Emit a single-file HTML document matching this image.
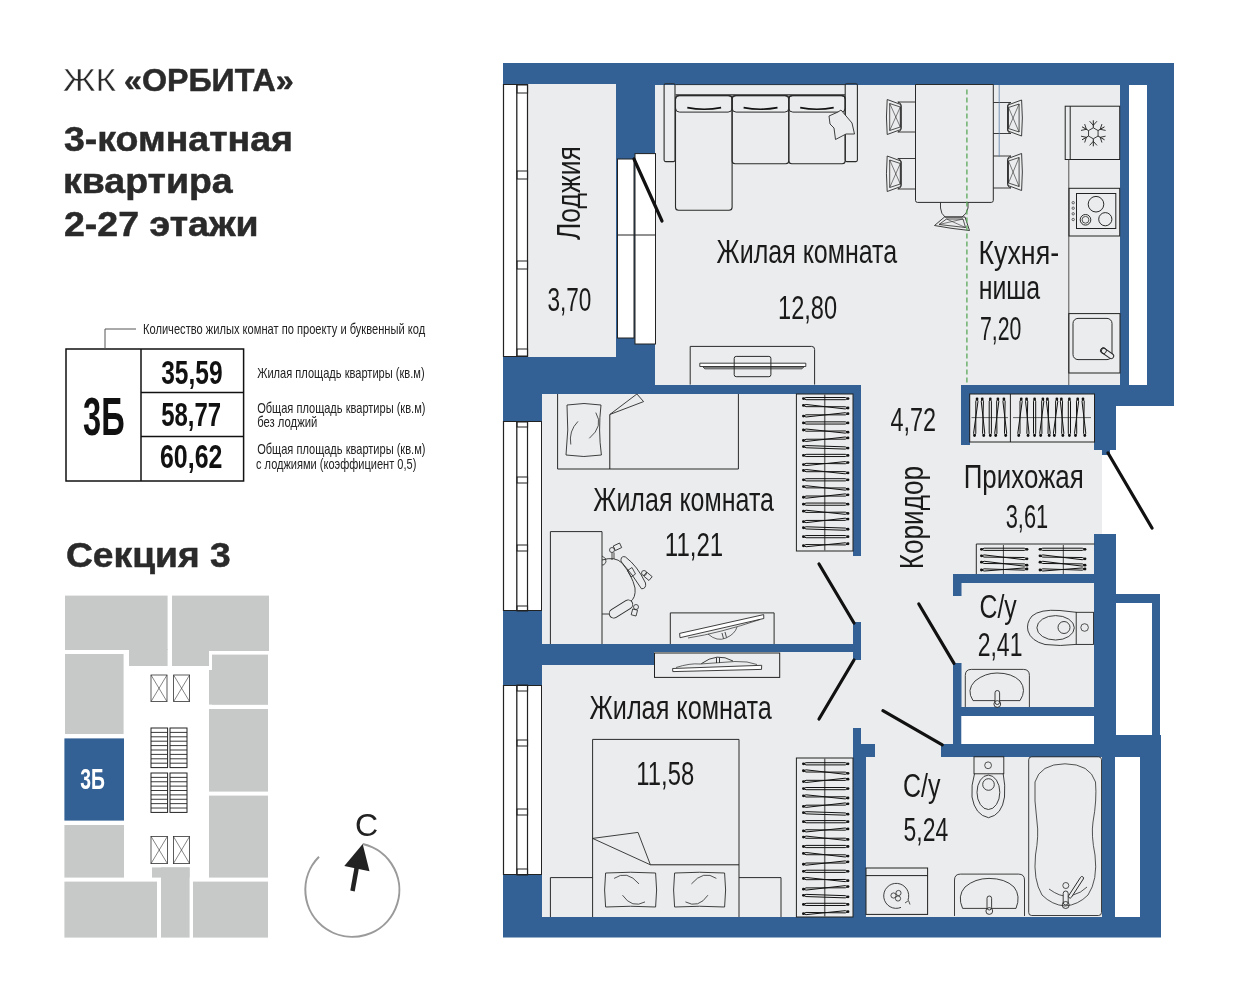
<!DOCTYPE html>
<html><head><meta charset="utf-8"><style>
html,body{margin:0;padding:0;background:#fff;}
svg{display:block;}
text{-webkit-font-smoothing:antialiased;}
</style></head><body>
<svg width="1241" height="1000" viewBox="0 0 1241 1000" style="will-change:transform">
<rect x="0" y="0" width="1241" height="1000" fill="#ffffff"/>
<rect x="66" y="349" width="177.6" height="132" fill="none" stroke="#111" stroke-width="1.5"/>
<line x1="141" y1="349" x2="141" y2="481" stroke="#111" stroke-width="1.5" />
<line x1="141" y1="392.6" x2="243.6" y2="392.6" stroke="#111" stroke-width="1.5" />
<line x1="141" y1="436.6" x2="243.6" y2="436.6" stroke="#111" stroke-width="1.5" />
<polyline points="105,349 105,329 136,329" fill="none" stroke="#555" stroke-width="1"/>
<rect x="65" y="595.6" width="102.6" height="54.4" fill="#c7c8c8" />
<rect x="129" y="649" width="38.6" height="17" fill="#c7c8c8" />
<rect x="172" y="595.6" width="97" height="55.4" fill="#c7c8c8" />
<rect x="172" y="650" width="37" height="16" fill="#c7c8c8" />
<rect x="65" y="654" width="58.6" height="80" fill="#c7c8c8" />
<rect x="212" y="654.6" width="56" height="50.0" fill="#c7c8c8" />
<rect x="209" y="670" width="59" height="34.6" fill="#c7c8c8" />
<rect x="209" y="709" width="59" height="82.6" fill="#c7c8c8" />
<rect x="209" y="795.6" width="59" height="82.0" fill="#c7c8c8" />
<rect x="64.4" y="825" width="59.6" height="52.6" fill="#c7c8c8" />
<rect x="64.4" y="881.6" width="92.6" height="56.0" fill="#c7c8c8" />
<rect x="152" y="867.4" width="37.6" height="10.2" fill="#c7c8c8" />
<rect x="161" y="867.4" width="28.6" height="70.2" fill="#c7c8c8" />
<rect x="193" y="881.6" width="75" height="56.0" fill="#c7c8c8" />
<rect x="64.4" y="738.4" width="59.6" height="82.2" fill="#336195" />
<text x="80.2" y="789" font-family="Liberation Sans, sans-serif" font-size="30" font-weight="bold" fill="#ffffff" text-anchor="start" textLength="24.6" lengthAdjust="spacingAndGlyphs" >3Б</text>
<rect x="151" y="675" width="16" height="26.6" fill="none" stroke="#333" stroke-width="0.8"/>
<line x1="151" y1="675" x2="167" y2="701.6" stroke="#333" stroke-width="0.6" />
<line x1="167" y1="675" x2="151" y2="701.6" stroke="#333" stroke-width="0.6" />
<rect x="173.6" y="675" width="16.0" height="26.6" fill="none" stroke="#333" stroke-width="0.8"/>
<line x1="173.6" y1="675" x2="189.6" y2="701.6" stroke="#333" stroke-width="0.6" />
<line x1="189.6" y1="675" x2="173.6" y2="701.6" stroke="#333" stroke-width="0.6" />
<rect x="151" y="836.4" width="16.4" height="27.2" fill="none" stroke="#333" stroke-width="0.8"/>
<line x1="151" y1="836.4" x2="167.4" y2="863.6" stroke="#333" stroke-width="0.6" />
<line x1="167.4" y1="836.4" x2="151" y2="863.6" stroke="#333" stroke-width="0.6" />
<rect x="173.4" y="836.4" width="16.2" height="27.2" fill="none" stroke="#333" stroke-width="0.8"/>
<line x1="173.4" y1="836.4" x2="189.6" y2="863.6" stroke="#333" stroke-width="0.6" />
<line x1="189.6" y1="836.4" x2="173.4" y2="863.6" stroke="#333" stroke-width="0.6" />
<rect x="151" y="728" width="16.6" height="39.6" fill="none" stroke="#222" stroke-width="1"/>
<line x1="151" y1="732.4" x2="167.6" y2="732.4" stroke="#222" stroke-width="0.9" />
<line x1="151" y1="736.8" x2="167.6" y2="736.8" stroke="#222" stroke-width="0.9" />
<line x1="151" y1="741.2" x2="167.6" y2="741.2" stroke="#222" stroke-width="0.9" />
<line x1="151" y1="745.6" x2="167.6" y2="745.6" stroke="#222" stroke-width="0.9" />
<line x1="151" y1="750.0" x2="167.6" y2="750.0" stroke="#222" stroke-width="0.9" />
<line x1="151" y1="754.4" x2="167.6" y2="754.4" stroke="#222" stroke-width="0.9" />
<line x1="151" y1="758.8" x2="167.6" y2="758.8" stroke="#222" stroke-width="0.9" />
<line x1="151" y1="763.2" x2="167.6" y2="763.2" stroke="#222" stroke-width="0.9" />
<rect x="151" y="773" width="16.6" height="39.4" fill="none" stroke="#222" stroke-width="1"/>
<line x1="151" y1="777.38" x2="167.6" y2="777.38" stroke="#222" stroke-width="0.9" />
<line x1="151" y1="781.76" x2="167.6" y2="781.76" stroke="#222" stroke-width="0.9" />
<line x1="151" y1="786.13" x2="167.6" y2="786.13" stroke="#222" stroke-width="0.9" />
<line x1="151" y1="790.51" x2="167.6" y2="790.51" stroke="#222" stroke-width="0.9" />
<line x1="151" y1="794.89" x2="167.6" y2="794.89" stroke="#222" stroke-width="0.9" />
<line x1="151" y1="799.27" x2="167.6" y2="799.27" stroke="#222" stroke-width="0.9" />
<line x1="151" y1="803.64" x2="167.6" y2="803.64" stroke="#222" stroke-width="0.9" />
<line x1="151" y1="808.02" x2="167.6" y2="808.02" stroke="#222" stroke-width="0.9" />
<rect x="170" y="728" width="17" height="39.6" fill="none" stroke="#222" stroke-width="1"/>
<line x1="170" y1="732.4" x2="187" y2="732.4" stroke="#222" stroke-width="0.9" />
<line x1="170" y1="736.8" x2="187" y2="736.8" stroke="#222" stroke-width="0.9" />
<line x1="170" y1="741.2" x2="187" y2="741.2" stroke="#222" stroke-width="0.9" />
<line x1="170" y1="745.6" x2="187" y2="745.6" stroke="#222" stroke-width="0.9" />
<line x1="170" y1="750.0" x2="187" y2="750.0" stroke="#222" stroke-width="0.9" />
<line x1="170" y1="754.4" x2="187" y2="754.4" stroke="#222" stroke-width="0.9" />
<line x1="170" y1="758.8" x2="187" y2="758.8" stroke="#222" stroke-width="0.9" />
<line x1="170" y1="763.2" x2="187" y2="763.2" stroke="#222" stroke-width="0.9" />
<rect x="170" y="773" width="17" height="39.4" fill="none" stroke="#222" stroke-width="1"/>
<line x1="170" y1="777.38" x2="187" y2="777.38" stroke="#222" stroke-width="0.9" />
<line x1="170" y1="781.76" x2="187" y2="781.76" stroke="#222" stroke-width="0.9" />
<line x1="170" y1="786.13" x2="187" y2="786.13" stroke="#222" stroke-width="0.9" />
<line x1="170" y1="790.51" x2="187" y2="790.51" stroke="#222" stroke-width="0.9" />
<line x1="170" y1="794.89" x2="187" y2="794.89" stroke="#222" stroke-width="0.9" />
<line x1="170" y1="799.27" x2="187" y2="799.27" stroke="#222" stroke-width="0.9" />
<line x1="170" y1="803.64" x2="187" y2="803.64" stroke="#222" stroke-width="0.9" />
<line x1="170" y1="808.02" x2="187" y2="808.02" stroke="#222" stroke-width="0.9" />
<path d="M 362.7 844 A 47 47 0 1 1 319 856.7" fill="none" stroke="#9a9a9a" stroke-width="2"/>
<polygon points="362.7,844 344.3,866 369.5,871.2" fill="#222"/>
<line x1="357" y1="866" x2="352.5" y2="891" stroke="#222" stroke-width="4.5" />
<polygon points="503,63 1174,63 1174,406 1116,406 1116,594 1160,594 1160,735 1161,735 1161,937.5 503,937.5" fill="#336195"/>
<rect x="528" y="84" width="88" height="273" fill="#ebeced" />
<rect x="655" y="85" width="465" height="300" fill="#ebeced" />
<rect x="542" y="394" width="311" height="250" fill="#ebeced" />
<rect x="861" y="385" width="233" height="372" fill="#ebeced" />
<rect x="542" y="652" width="311" height="265" fill="#ebeced" />
<rect x="866" y="757" width="236" height="160" fill="#ebeced" />
<rect x="1094" y="450" width="8" height="84" fill="#ebeced" />
<rect x="853" y="556" width="8" height="66" fill="#ebeced" />
<rect x="853" y="660" width="8" height="68" fill="#ebeced" />
<rect x="616" y="84" width="39" height="310" fill="#336195" />
<rect x="655" y="385" width="206" height="9" fill="#336195" />
<rect x="853" y="394" width="8" height="162" fill="#336195" />
<rect x="542" y="644" width="112" height="21" fill="#336195" />
<rect x="654" y="644" width="207" height="8" fill="#336195" />
<rect x="853" y="622" width="8" height="38" fill="#336195" />
<rect x="853" y="728" width="8" height="29" fill="#336195" />
<rect x="853" y="744" width="22" height="13" fill="#336195" />
<rect x="853" y="757" width="13" height="160" fill="#336195" />
<rect x="961" y="385" width="9" height="60" fill="#336195" />
<rect x="961" y="385" width="213" height="9" fill="#336195" />
<rect x="1094" y="394" width="80" height="12" fill="#336195" />
<rect x="1094" y="394" width="22" height="56" fill="#336195" />
<rect x="1102" y="449" width="8" height="6" fill="#336195" />
<rect x="1094" y="534" width="22" height="223" fill="#336195" />
<rect x="1102" y="757" width="14" height="160" fill="#336195" />
<rect x="953" y="574" width="141" height="9" fill="#336195" />
<rect x="953" y="574" width="8.5" height="22" fill="#336195" />
<rect x="953" y="663" width="8.5" height="94" fill="#336195" />
<rect x="961" y="707" width="133" height="9" fill="#336195" />
<rect x="941" y="744" width="174" height="13" fill="#336195" />
<rect x="1129" y="85" width="18" height="300" fill="#ffffff" />
<rect x="1116" y="603" width="36" height="132" fill="#ffffff" />
<rect x="1115" y="757" width="25" height="160" fill="#ffffff" />
<rect x="961.5" y="716" width="132.5" height="28" fill="#ffffff" />
<rect x="1102" y="455" width="14" height="79" fill="#ffffff" />
<rect x="1110" y="450" width="6" height="5" fill="#ffffff" />
<rect x="503" y="84" width="25" height="273" fill="#ffffff" />
<line x1="503.5" y1="84" x2="503.5" y2="357" stroke="#222" stroke-width="1.2" />
<line x1="516.8" y1="84" x2="516.8" y2="357" stroke="#222" stroke-width="1.3" />
<line x1="527.5" y1="84" x2="527.5" y2="357" stroke="#222" stroke-width="1.2" />
<line x1="503" y1="84.5" x2="528" y2="84.5" stroke="#222" stroke-width="1" />
<line x1="503" y1="356.5" x2="528" y2="356.5" stroke="#222" stroke-width="1" />
<rect x="517" y="85" width="10.6" height="8" fill="none" stroke="#222" stroke-width="1"/>
<rect x="517" y="171" width="10.6" height="8" fill="none" stroke="#222" stroke-width="1"/>
<rect x="517" y="261" width="10.6" height="8" fill="none" stroke="#222" stroke-width="1"/>
<rect x="517" y="349" width="10.6" height="7" fill="none" stroke="#222" stroke-width="1"/>
<rect x="503" y="421" width="39" height="190" fill="#ffffff" />
<line x1="503.5" y1="421" x2="503.5" y2="611" stroke="#222" stroke-width="1.2" />
<line x1="516.8" y1="421" x2="516.8" y2="611" stroke="#222" stroke-width="1.3" />
<line x1="527.5" y1="421" x2="527.5" y2="611" stroke="#222" stroke-width="1.2" />
<line x1="541.5" y1="421" x2="541.5" y2="611" stroke="#222" stroke-width="1" />
<line x1="503" y1="421.5" x2="542" y2="421.5" stroke="#222" stroke-width="1" />
<line x1="503" y1="610.5" x2="542" y2="610.5" stroke="#222" stroke-width="1" />
<rect x="517" y="422" width="10.6" height="5" fill="none" stroke="#222" stroke-width="1"/>
<rect x="517" y="477" width="10.6" height="6" fill="none" stroke="#222" stroke-width="1"/>
<rect x="517" y="545" width="10.6" height="6" fill="none" stroke="#222" stroke-width="1"/>
<rect x="517" y="606" width="10.6" height="5" fill="none" stroke="#222" stroke-width="1"/>
<rect x="503" y="685" width="39" height="190" fill="#ffffff" />
<line x1="503.5" y1="685" x2="503.5" y2="875" stroke="#222" stroke-width="1.2" />
<line x1="516.8" y1="685" x2="516.8" y2="875" stroke="#222" stroke-width="1.3" />
<line x1="527.5" y1="685" x2="527.5" y2="875" stroke="#222" stroke-width="1.2" />
<line x1="541.5" y1="685" x2="541.5" y2="875" stroke="#222" stroke-width="1" />
<line x1="503" y1="685.5" x2="542" y2="685.5" stroke="#222" stroke-width="1" />
<line x1="503" y1="874.5" x2="542" y2="874.5" stroke="#222" stroke-width="1" />
<rect x="517" y="685" width="10.6" height="6" fill="none" stroke="#222" stroke-width="1"/>
<rect x="517" y="740" width="10.6" height="6" fill="none" stroke="#222" stroke-width="1"/>
<rect x="517" y="809" width="10.6" height="6" fill="none" stroke="#222" stroke-width="1"/>
<rect x="517" y="869" width="10.6" height="6" fill="none" stroke="#222" stroke-width="1"/>
<rect x="617.5" y="159" width="16.5" height="179" fill="#ffffff" stroke="#222" stroke-width="1"/>
<rect x="635" y="153.6" width="20.5" height="190.4" fill="#ffffff" stroke="#222" stroke-width="1"/>
<line x1="617.5" y1="235" x2="655.5" y2="235" stroke="#222" stroke-width="1" />
<line x1="634" y1="159" x2="662" y2="221" stroke="#111" stroke-width="3.2" stroke-linecap="round"/>
<line x1="1108" y1="453" x2="1152" y2="528" stroke="#111" stroke-width="3.2" stroke-linecap="round"/>
<line x1="819" y1="564" x2="854" y2="623" stroke="#111" stroke-width="3.2" stroke-linecap="round"/>
<line x1="854" y1="660" x2="819" y2="719" stroke="#111" stroke-width="3.2" stroke-linecap="round"/>
<line x1="918.8" y1="604" x2="954" y2="663.4" stroke="#111" stroke-width="3.2" stroke-linecap="round"/>
<line x1="882.9" y1="710.7" x2="942.3" y2="744.8" stroke="#111" stroke-width="3.2" stroke-linecap="round"/>
<rect x="664.1" y="83.8" width="10.9" height="77.8" rx="1.5" fill="none" stroke="#2a2a2a" stroke-width="1.1"/>
<rect x="845.2" y="83.8" width="12.2" height="77.8" rx="1.5" fill="none" stroke="#2a2a2a" stroke-width="1.1"/>
<line x1="675.5" y1="94.9" x2="845" y2="94.9" stroke="#2a2a2a" stroke-width="1.1" />
<line x1="675.5" y1="84.6" x2="845" y2="84.6" stroke="#2a2a2a" stroke-width="0.8" />
<rect x="675.5" y="95.6" width="56.6" height="114.7" rx="3" fill="none" stroke="#2a2a2a" stroke-width="1.1"/>
<rect x="732.1" y="95.6" width="56.7" height="68.2" rx="3" fill="none" stroke="#2a2a2a" stroke-width="1.1"/>
<rect x="788.8" y="95.6" width="56.4" height="68.2" rx="3" fill="none" stroke="#2a2a2a" stroke-width="1.1"/>
<rect x="675.5" y="95.6" width="56.6" height="16.5" rx="4" fill="none" stroke="#2a2a2a" stroke-width="1.0"/>
<rect x="732.1" y="95.6" width="56.7" height="16.5" rx="4" fill="none" stroke="#2a2a2a" stroke-width="1.0"/>
<rect x="788.8" y="95.6" width="56.4" height="16.5" rx="4" fill="none" stroke="#2a2a2a" stroke-width="1.0"/>
<path d="M 687.3 107.6 Q 704.2 110.8 721.1 107.6" fill="none" stroke="#111" stroke-width="1.6" />
<path d="M 743.6 107.6 Q 760.55 110.8 777.5 107.6" fill="none" stroke="#111" stroke-width="1.6" />
<path d="M 800.2 107.6 Q 816.95 110.8 833.7 107.6" fill="none" stroke="#111" stroke-width="1.6" />
<path d="M 829 116 L 838 112 L 841 110 L 852 123 L 854.5 134 L 846 134 L 835.5 139.5 L 834 128 L 830 124 Z" fill="#ebeced" stroke="#2a2a2a" stroke-width="0.9" />
<path d="M 915.5 84.5 L 993.3 84.5 L 993.3 200.4 Q 993.3 202.4 991.3 202.4 L 917.5 202.4 Q 915.5 202.4 915.5 200.4 Z" fill="none" stroke="#2a2a2a" stroke-width="1"/>
<path d="M 915.5 102.0 L 897.8 102.0 Q 900.8 102.5 901.3 105.5 L 901.3 128.5 Q 900.8 131.5 897.8 132.0 L 915.5 132.0" fill="none" stroke="#2a2a2a" stroke-width="0.9" />
<path d="M 900.8 104.5 L 887.2 99.5 Q 885.7 117.0 887.2 134.5 L 900.8 129.5 Z" fill="none" stroke="#2a2a2a" stroke-width="0.9" />
<path d="M 900.3 107.0 L 889.7 103.5 L 889.7 130.5 L 900.3 127.0 Z" fill="none" stroke="#2a2a2a" stroke-width="0.8" />
<path d="M 900.3 107.0 L 889.7 130.5 M 889.7 103.5 L 900.3 127.0" fill="none" stroke="#2a2a2a" stroke-width="0.6" />
<path d="M 915.5 158.5 L 897.8 158.5 Q 900.8 159 901.3 162 L 901.3 185.5 Q 900.8 188.5 897.8 189.0 L 915.5 189.0" fill="none" stroke="#2a2a2a" stroke-width="0.9" />
<path d="M 900.8 161 L 887.2 156 Q 885.7 173.75 887.2 191.5 L 900.8 186.5 Z" fill="none" stroke="#2a2a2a" stroke-width="0.9" />
<path d="M 900.3 163.5 L 889.7 160 L 889.7 187.5 L 900.3 184.0 Z" fill="none" stroke="#2a2a2a" stroke-width="0.8" />
<path d="M 900.3 163.5 L 889.7 187.5 M 889.7 160 L 900.3 184.0" fill="none" stroke="#2a2a2a" stroke-width="0.6" />
<path d="M 993.3 102.5 L 1011.0 102.5 Q 1008.0 103 1007.5 106 L 1007.5 130 Q 1008.0 133 1011.0 133.5 L 993.3 133.5" fill="none" stroke="#2a2a2a" stroke-width="0.9" />
<path d="M 1008.0 105 L 1021.5999999999999 100 Q 1023.0999999999999 118.0 1021.5999999999999 136 L 1008.0 131 Z" fill="none" stroke="#2a2a2a" stroke-width="0.9" />
<path d="M 1008.5 107.5 L 1019.0999999999999 104 L 1019.0999999999999 132 L 1008.5 128.5 Z" fill="none" stroke="#2a2a2a" stroke-width="0.8" />
<path d="M 1008.5 107.5 L 1019.0999999999999 132 M 1019.0999999999999 104 L 1008.5 128.5" fill="none" stroke="#2a2a2a" stroke-width="0.6" />
<path d="M 993.3 156.0 L 1011.0 156.0 Q 1008.0 156.5 1007.5 159.5 L 1007.5 184.5 Q 1008.0 187.5 1011.0 188.0 L 993.3 188.0" fill="none" stroke="#2a2a2a" stroke-width="0.9" />
<path d="M 1008.0 158.5 L 1021.5999999999999 153.5 Q 1023.0999999999999 172.0 1021.5999999999999 190.5 L 1008.0 185.5 Z" fill="none" stroke="#2a2a2a" stroke-width="0.9" />
<path d="M 1008.5 161.0 L 1019.0999999999999 157.5 L 1019.0999999999999 186.5 L 1008.5 183.0 Z" fill="none" stroke="#2a2a2a" stroke-width="0.8" />
<path d="M 1008.5 161.0 L 1019.0999999999999 186.5 M 1019.0999999999999 157.5 L 1008.5 183.0" fill="none" stroke="#2a2a2a" stroke-width="0.6" />
<path d="M 940.5 202.4 L 940.5 208 Q 941 214 945 217 L 962 217 Q 967 214 968 208 L 968 202.4" fill="none" stroke="#2a2a2a" stroke-width="0.9" />
<path d="M 944.5 217 L 934.5 225.5 Q 950 228.5 969.5 230.5 L 965 217 Z" fill="none" stroke="#2a2a2a" stroke-width="0.9" />
<path d="M 946.5 219 L 939 224.5 L 965.5 227.5 L 963 219 Z" fill="none" stroke="#2a2a2a" stroke-width="0.8" />
<path d="M 946.5 219 L 965.5 227.5 M 963 219 L 939 224.5" fill="none" stroke="#2a2a2a" stroke-width="0.6" />
<line x1="966.9" y1="89.6" x2="966.9" y2="385" stroke="#5aa85a" stroke-width="1.3" stroke-dasharray="4.8 3.2"/>
<line x1="999.2" y1="85" x2="999.2" y2="156.8" stroke="#5b7fa8" stroke-width="0.8" />
<rect x="1065.2" y="106.2" width="54.5" height="53.3" fill="none" stroke="#222" stroke-width="1"/>
<line x1="1070.2" y1="106.2" x2="1070.2" y2="159.5" stroke="#222" stroke-width="1" />
<line x1="1093.3" y1="127.8" x2="1093.3" y2="120.3" stroke="#222" stroke-width="1" />
<line x1="1093.3" y1="125.3" x2="1096.98" y2="121.21" stroke="#222" stroke-width="0.9" />
<line x1="1093.3" y1="125.3" x2="1089.62" y2="121.21" stroke="#222" stroke-width="0.9" />
<line x1="1088.54" y1="130.55" x2="1082.04" y2="126.8" stroke="#222" stroke-width="1" />
<line x1="1086.37" y1="129.3" x2="1084.67" y2="124.07" stroke="#222" stroke-width="0.9" />
<line x1="1086.37" y1="129.3" x2="1080.99" y2="130.44" stroke="#222" stroke-width="0.9" />
<line x1="1088.54" y1="136.05" x2="1082.04" y2="139.8" stroke="#222" stroke-width="1" />
<line x1="1086.37" y1="137.3" x2="1080.99" y2="136.16" stroke="#222" stroke-width="0.9" />
<line x1="1086.37" y1="137.3" x2="1084.67" y2="142.53" stroke="#222" stroke-width="0.9" />
<line x1="1093.3" y1="138.8" x2="1093.3" y2="146.3" stroke="#222" stroke-width="1" />
<line x1="1093.3" y1="141.3" x2="1089.62" y2="145.39" stroke="#222" stroke-width="0.9" />
<line x1="1093.3" y1="141.3" x2="1096.98" y2="145.39" stroke="#222" stroke-width="0.9" />
<line x1="1098.06" y1="136.05" x2="1104.56" y2="139.8" stroke="#222" stroke-width="1" />
<line x1="1100.23" y1="137.3" x2="1101.93" y2="142.53" stroke="#222" stroke-width="0.9" />
<line x1="1100.23" y1="137.3" x2="1105.61" y2="136.16" stroke="#222" stroke-width="0.9" />
<line x1="1098.06" y1="130.55" x2="1104.56" y2="126.8" stroke="#222" stroke-width="1" />
<line x1="1100.23" y1="129.3" x2="1105.61" y2="130.44" stroke="#222" stroke-width="0.9" />
<line x1="1100.23" y1="129.3" x2="1101.93" y2="124.07" stroke="#222" stroke-width="0.9" />
<polygon points="1093.3,127.8 1088.54,130.55 1088.54,136.05 1093.3,138.8 1098.06,136.05 1098.06,130.55" fill="none" stroke="#2a2a2a" stroke-width="0.9"/>
<line x1="1068.8" y1="159.5" x2="1068.8" y2="385" stroke="#555" stroke-width="1" />
<rect x="1069" y="188.3" width="50.7" height="47.7" fill="none" stroke="#222" stroke-width="1"/>
<rect x="1076.5" y="193.5" width="39.3" height="35.0" fill="none" stroke="#222" stroke-width="1"/>
<circle cx="1096" cy="204.2" r="7.8" fill="none" stroke="#2a2a2a" stroke-width="1"/>
<circle cx="1105.3" cy="219.2" r="6.6" fill="none" stroke="#2a2a2a" stroke-width="1"/>
<circle cx="1085.5" cy="219.8" r="5.3" fill="none" stroke="#2a2a2a" stroke-width="1"/>
<circle cx="1085.5" cy="219.8" r="3.4" fill="none" stroke="#2a2a2a" stroke-width="0.8"/>
<circle cx="1073.2" cy="202.7" r="1.2" fill="none" stroke="#2a2a2a" stroke-width="0.7"/>
<circle cx="1073.2" cy="208.2" r="1.2" fill="none" stroke="#2a2a2a" stroke-width="0.7"/>
<circle cx="1073.2" cy="213.8" r="1.2" fill="none" stroke="#2a2a2a" stroke-width="0.7"/>
<circle cx="1073.2" cy="219.5" r="1.2" fill="none" stroke="#2a2a2a" stroke-width="0.7"/>
<rect x="1068.8" y="313.6" width="51.2" height="59.4" fill="none" stroke="#222" stroke-width="1"/>
<rect x="1073" y="318.4" width="39" height="41.2" rx="5" fill="none" stroke="#2a2a2a" stroke-width="1"/>
<g transform="translate(1107.5,353.5) rotate(35)"><rect x="-7" y="-2.5" width="14" height="5" rx="2.5" fill="#ebeced" stroke="#2a2a2a" stroke-width="1"/><circle cx="-5" cy="0" r="3" fill="none" stroke="#2a2a2a" stroke-width="0.9"/></g>
<path d="M 690.2 384.6 L 690.2 346.4 L 811.6 346.4 Q 814.6 346.4 814.6 349.4 L 814.6 384.6" fill="none" stroke="#2a2a2a" stroke-width="1"/>
<path d="M 699.8 363.2 L 805.8 363.2 L 805.8 366.5 L 699.8 366.5 Z M 703.2 367.2 L 803.6 367.2 L 802 368.8 L 704.8 368.8 Z" fill="#ffffff" stroke="#2a2a2a" stroke-width="0.9" />
<rect x="734.2" y="356.4" width="36.7" height="20.3" rx="2" fill="none" stroke="#2a2a2a" stroke-width="1"/>
<path d="M 557.6 394 L 557.6 469 L 738.4 469 L 738.4 394" fill="none" stroke="#2a2a2a" stroke-width="1"/>
<line x1="609.8" y1="414.5" x2="609.8" y2="469" stroke="#222" stroke-width="1" />
<path d="M 609.8 414.5 L 636.9 394 L 643.6 401.6 Z" fill="none" stroke="#2a2a2a" stroke-width="0.9" />
<path d="M 567 405 Q 584 402 601 405 Q 598 430 601.4 455 Q 584 458 566 455 Q 569 430 567 405 Z" fill="none" stroke="#2a2a2a" stroke-width="0.9" />
<path d="M 578 421.4 Q 568.5 431 570.8 444.5 M 595.8 412.6 Q 604 426 589.3 438.3" fill="none" stroke="#2a2a2a" stroke-width="0.8" />
<path d="M 550.4 644 L 550.4 531.6 L 602 531.6 L 602 644" fill="none" stroke="#2a2a2a" stroke-width="1"/>
<path d="M 602 560 Q 615 556 622 563 Q 632 575 635 588 Q 636 598 630 602 L 609 614 L 602 614" fill="none" stroke="#2a2a2a" stroke-width="0.9" />
<path d="M 602 556 Q 607 558 606 562 Q 604 566 602 565" fill="none" stroke="#2a2a2a" stroke-width="0.8" />
<path d="M 621 559.5 Q 621.5 555.5 625.5 557 Q 637.5 566 645.5 583 Q 646.5 588.8 641.5 588.8 Q 633 575 621.5 562 Q 620.7 561 621 559.5 Z" fill="#ebeced" stroke="#2a2a2a" stroke-width="0.9" />
<path d="M 627.5 570.5 L 632 567.5 L 635.5 574 L 631 577 Z" fill="none" stroke="#2a2a2a" stroke-width="0.8" />
<g transform="translate(621,609) rotate(-32)"><rect x="-13" y="-4.5" width="26" height="9" rx="4.5" fill="#ebeced" stroke="#2a2a2a" stroke-width="0.9"/></g>
<circle cx="612" cy="550" r="2.5" fill="none" stroke="#2a2a2a" stroke-width="0.8"/>
<g transform="translate(617,547) rotate(-25)"><rect x="-3" y="-2.5" width="7" height="5" fill="none" stroke="#2a2a2a" stroke-width="0.8"/></g>
<line x1="612" y1="552.5" x2="612" y2="560" stroke="#222" stroke-width="0.8" />
<line x1="614" y1="552.5" x2="614" y2="559" stroke="#222" stroke-width="0.8" />
<circle cx="644" cy="573" r="2.5" fill="none" stroke="#2a2a2a" stroke-width="0.8"/>
<g transform="translate(647.5,576) rotate(40)"><rect x="-3" y="-2.5" width="7" height="5" fill="none" stroke="#2a2a2a" stroke-width="0.8"/></g>
<circle cx="636" cy="607" r="2.5" fill="none" stroke="#2a2a2a" stroke-width="0.8"/>
<g transform="translate(634.5,612) rotate(15)"><rect x="-2.5" y="-2.5" width="5" height="6" fill="none" stroke="#2a2a2a" stroke-width="0.8"/></g>
<path d="M 670.3 644 L 670.3 612.9 L 774.1 612.9 L 774.1 644" fill="none" stroke="#2a2a2a" stroke-width="1"/>
<path d="M 679.6 633.4 L 763.7 614.6 L 763.8 618.5 L 680 637.7 Z" fill="#ffffff" stroke="#2a2a2a" stroke-width="0.9" />
<path d="M 688 638 Q 720 633 760 619.5" fill="none" stroke="#2a2a2a" stroke-width="0.7" />
<path d="M 708 634 Q 717 642 726 638 Q 735 634 737 627" fill="none" stroke="#2a2a2a" stroke-width="0.7" />
<line x1="722" y1="633" x2="723.5" y2="638.5" stroke="#222" stroke-width="0.8" />
<line x1="725" y1="632" x2="726.5" y2="637.5" stroke="#222" stroke-width="0.8" />
<rect x="654.5" y="653" width="125.2" height="24.4" fill="none" stroke="#222" stroke-width="1"/>
<path d="M 672.6 668.5 L 761.7 665.3 L 761.5 669.4 L 672.8 671.6 Z" fill="#ffffff" stroke="#2a2a2a" stroke-width="0.9" />
<path d="M 676 667.5 Q 690 663 700 664 L 735 661.5 Q 748 661 757 664.5" fill="none" stroke="#2a2a2a" stroke-width="0.7" />
<path d="M 701.3 663.7 Q 717 652 733 661" fill="none" stroke="#2a2a2a" stroke-width="0.9" />
<line x1="716.5" y1="657.8" x2="716.5" y2="663" stroke="#222" stroke-width="0.9" />
<line x1="719.5" y1="657.8" x2="719.5" y2="662.8" stroke="#222" stroke-width="0.9" />
<path d="M 592.6 917 L 592.6 739.4 L 739 739.4 L 739 917" fill="none" stroke="#2a2a2a" stroke-width="1"/>
<path d="M 592.6 838.4 L 638 832.4 L 650.4 864.8 Z" fill="none" stroke="#2a2a2a" stroke-width="0.9" />
<line x1="650.4" y1="864.8" x2="739" y2="864.8" stroke="#222" stroke-width="1" />
<path d="M 605.6 873 Q 630.6 871.5 655.6 873 Q 657.6 890.0 655.6 907 Q 630.6 905.5 605.6 907 Q 603.6 890.0 605.6 873 Z" fill="none" stroke="#2a2a2a" stroke-width="0.9" />
<path d="M 674.6 873 Q 699.6 871.5 724.6 873 Q 726.6 890.0 724.6 907 Q 699.6 905.5 674.6 907 Q 672.6 890.0 674.6 873 Z" fill="none" stroke="#2a2a2a" stroke-width="0.9" />
<path d="M 614.1 878.4 Q 627 869.5 639 883.9 M 622.5 895.2 Q 632 909 645 901.9" fill="none" stroke="#2a2a2a" stroke-width="0.8" />
<path d="M 691.45 883.9 Q 703.45 869.5 716.35 878.4 M 685.45 901.9 Q 698.45 909 707.95 895.2" fill="none" stroke="#2a2a2a" stroke-width="0.8" />
<path d="M 550.4 917 L 550.4 877.6 L 592.6 877.6" fill="none" stroke="#2a2a2a" stroke-width="1"/>
<path d="M 739 877.6 L 781 877.6 L 781 917" fill="none" stroke="#2a2a2a" stroke-width="1"/>
<rect x="796.4" y="394" width="56.6" height="157" fill="none" stroke="#222" stroke-width="1"/>
<line x1="824.7" y1="394" x2="824.7" y2="551" stroke="#6a6a6a" stroke-width="1.5" />
<path d="M 803.40 398.60 L 806.08 399.70 L 845.32 399.70 L 848.00 398.60 L 845.32 397.50 L 806.08 397.50 Z" fill="none" stroke="#111" stroke-width="1.0" />
<circle cx="803.4" cy="398.6" r="1.4" fill="#111" stroke="none" stroke-width="0"/>
<circle cx="848" cy="398.6" r="1.4" fill="#111" stroke="none" stroke-width="0"/>
<path d="M 803.40 405.42 L 806.01 406.67 L 845.39 406.77 L 848.00 408.02 L 845.26 408.96 L 806.14 404.48 Z" fill="none" stroke="#111" stroke-width="1.0" />
<circle cx="803.4" cy="405.42" r="1.4" fill="#111" stroke="none" stroke-width="0"/>
<circle cx="848" cy="408.02" r="1.4" fill="#111" stroke="none" stroke-width="0"/>
<path d="M 803.40 416.04 L 806.14 416.99 L 845.26 412.69 L 848.00 413.64 L 845.38 414.88 L 806.02 414.80 Z" fill="none" stroke="#111" stroke-width="1.0" />
<circle cx="803.4" cy="416.04" r="1.4" fill="#111" stroke="none" stroke-width="0"/>
<circle cx="848" cy="413.64" r="1.4" fill="#111" stroke="none" stroke-width="0"/>
<path d="M 803.40 422.96 L 806.08 424.06 L 845.32 424.06 L 848.00 422.96 L 845.32 421.86 L 806.08 421.86 Z" fill="none" stroke="#111" stroke-width="1.0" />
<circle cx="803.4" cy="422.96" r="1.4" fill="#111" stroke="none" stroke-width="0"/>
<circle cx="848" cy="422.96" r="1.4" fill="#111" stroke="none" stroke-width="0"/>
<path d="M 803.40 429.98 L 806.02 431.21 L 845.38 430.95 L 848.00 432.18 L 845.27 433.15 L 806.13 429.01 Z" fill="none" stroke="#111" stroke-width="1.0" />
<circle cx="803.4" cy="429.98" r="1.4" fill="#111" stroke="none" stroke-width="0"/>
<circle cx="848" cy="432.18" r="1.4" fill="#111" stroke="none" stroke-width="0"/>
<path d="M 803.40 440.50 L 806.14 441.44 L 845.26 436.96 L 848.00 437.90 L 845.39 439.15 L 806.01 439.25 Z" fill="none" stroke="#111" stroke-width="1.0" />
<circle cx="803.4" cy="440.5" r="1.4" fill="#111" stroke="none" stroke-width="0"/>
<circle cx="848" cy="437.9" r="1.4" fill="#111" stroke="none" stroke-width="0"/>
<path d="M 803.40 446.57 L 806.04 447.76 L 845.29 449.08 L 848.00 448.07 L 845.36 446.88 L 806.11 445.56 Z" fill="none" stroke="#111" stroke-width="1.0" />
<circle cx="803.4" cy="446.57" r="1.4" fill="#111" stroke="none" stroke-width="0"/>
<circle cx="848" cy="448.07" r="1.4" fill="#111" stroke="none" stroke-width="0"/>
<path d="M 803.40 455.44 L 806.08 456.54 L 845.32 456.54 L 848.00 455.44 L 845.32 454.34 L 806.08 454.34 Z" fill="none" stroke="#111" stroke-width="1.0" />
<circle cx="803.4" cy="455.44" r="1.4" fill="#111" stroke="none" stroke-width="0"/>
<circle cx="848" cy="455.44" r="1.4" fill="#111" stroke="none" stroke-width="0"/>
<path d="M 803.40 464.56 L 806.13 465.54 L 845.27 461.58 L 848.00 462.56 L 845.37 463.78 L 806.03 463.34 Z" fill="none" stroke="#111" stroke-width="1.0" />
<circle cx="803.4" cy="464.56" r="1.4" fill="#111" stroke="none" stroke-width="0"/>
<circle cx="848" cy="462.56" r="1.4" fill="#111" stroke="none" stroke-width="0"/>
<path d="M 803.40 470.48 L 806.02 471.72 L 845.38 471.64 L 848.00 472.88 L 845.26 473.83 L 806.14 469.53 Z" fill="none" stroke="#111" stroke-width="1.0" />
<circle cx="803.4" cy="470.48" r="1.4" fill="#111" stroke="none" stroke-width="0"/>
<circle cx="848" cy="472.88" r="1.4" fill="#111" stroke="none" stroke-width="0"/>
<path d="M 803.40 479.80 L 806.08 480.90 L 845.32 480.90 L 848.00 479.80 L 845.32 478.70 L 806.08 478.70 Z" fill="none" stroke="#111" stroke-width="1.0" />
<circle cx="803.4" cy="479.8" r="1.4" fill="#111" stroke="none" stroke-width="0"/>
<circle cx="848" cy="479.8" r="1.4" fill="#111" stroke="none" stroke-width="0"/>
<path d="M 803.40 486.62 L 806.01 487.87 L 845.39 487.97 L 848.00 489.22 L 845.26 490.16 L 806.14 485.68 Z" fill="none" stroke="#111" stroke-width="1.0" />
<circle cx="803.4" cy="486.62" r="1.4" fill="#111" stroke="none" stroke-width="0"/>
<circle cx="848" cy="489.22" r="1.4" fill="#111" stroke="none" stroke-width="0"/>
<path d="M 803.40 497.24 L 806.14 498.19 L 845.26 493.89 L 848.00 494.84 L 845.38 496.08 L 806.02 496.00 Z" fill="none" stroke="#111" stroke-width="1.0" />
<circle cx="803.4" cy="497.24" r="1.4" fill="#111" stroke="none" stroke-width="0"/>
<circle cx="848" cy="494.84" r="1.4" fill="#111" stroke="none" stroke-width="0"/>
<path d="M 803.40 504.16 L 806.08 505.26 L 845.32 505.26 L 848.00 504.16 L 845.32 503.06 L 806.08 503.06 Z" fill="none" stroke="#111" stroke-width="1.0" />
<circle cx="803.4" cy="504.16" r="1.4" fill="#111" stroke="none" stroke-width="0"/>
<circle cx="848" cy="504.16" r="1.4" fill="#111" stroke="none" stroke-width="0"/>
<path d="M 803.40 511.18 L 806.02 512.41 L 845.38 512.15 L 848.00 513.38 L 845.27 514.35 L 806.13 510.21 Z" fill="none" stroke="#111" stroke-width="1.0" />
<circle cx="803.4" cy="511.18" r="1.4" fill="#111" stroke="none" stroke-width="0"/>
<circle cx="848" cy="513.38" r="1.4" fill="#111" stroke="none" stroke-width="0"/>
<path d="M 803.40 521.70 L 806.14 522.64 L 845.26 518.16 L 848.00 519.10 L 845.39 520.35 L 806.01 520.45 Z" fill="none" stroke="#111" stroke-width="1.0" />
<circle cx="803.4" cy="521.7" r="1.4" fill="#111" stroke="none" stroke-width="0"/>
<circle cx="848" cy="519.1" r="1.4" fill="#111" stroke="none" stroke-width="0"/>
<path d="M 803.40 527.77 L 806.04 528.96 L 845.29 530.28 L 848.00 529.27 L 845.36 528.08 L 806.11 526.76 Z" fill="none" stroke="#111" stroke-width="1.0" />
<circle cx="803.4" cy="527.77" r="1.4" fill="#111" stroke="none" stroke-width="0"/>
<circle cx="848" cy="529.27" r="1.4" fill="#111" stroke="none" stroke-width="0"/>
<path d="M 803.40 536.64 L 806.08 537.74 L 845.32 537.74 L 848.00 536.64 L 845.32 535.54 L 806.08 535.54 Z" fill="none" stroke="#111" stroke-width="1.0" />
<circle cx="803.4" cy="536.64" r="1.4" fill="#111" stroke="none" stroke-width="0"/>
<circle cx="848" cy="536.64" r="1.4" fill="#111" stroke="none" stroke-width="0"/>
<path d="M 803.40 545.76 L 806.13 546.74 L 845.27 542.78 L 848.00 543.76 L 845.37 544.98 L 806.03 544.54 Z" fill="none" stroke="#111" stroke-width="1.0" />
<circle cx="803.4" cy="545.76" r="1.4" fill="#111" stroke="none" stroke-width="0"/>
<circle cx="848" cy="543.76" r="1.4" fill="#111" stroke="none" stroke-width="0"/>
<rect x="796.4" y="758" width="56.6" height="159" fill="none" stroke="#222" stroke-width="1"/>
<line x1="824.7" y1="758" x2="824.7" y2="917" stroke="#6a6a6a" stroke-width="1.5" />
<path d="M 803.40 763.80 L 806.08 764.90 L 845.32 764.90 L 848.00 763.80 L 845.32 762.70 L 806.08 762.70 Z" fill="none" stroke="#111" stroke-width="1.0" />
<circle cx="803.4" cy="763.8" r="1.4" fill="#111" stroke="none" stroke-width="0"/>
<circle cx="848" cy="763.8" r="1.4" fill="#111" stroke="none" stroke-width="0"/>
<path d="M 803.40 770.77 L 806.01 772.02 L 845.39 772.12 L 848.00 773.37 L 845.26 774.31 L 806.14 769.83 Z" fill="none" stroke="#111" stroke-width="1.0" />
<circle cx="803.4" cy="770.77" r="1.4" fill="#111" stroke="none" stroke-width="0"/>
<circle cx="848" cy="773.37" r="1.4" fill="#111" stroke="none" stroke-width="0"/>
<path d="M 803.40 781.54 L 806.14 782.49 L 845.26 778.19 L 848.00 779.14 L 845.38 780.38 L 806.02 780.30 Z" fill="none" stroke="#111" stroke-width="1.0" />
<circle cx="803.4" cy="781.54" r="1.4" fill="#111" stroke="none" stroke-width="0"/>
<circle cx="848" cy="779.14" r="1.4" fill="#111" stroke="none" stroke-width="0"/>
<path d="M 803.40 788.61 L 806.08 789.71 L 845.32 789.71 L 848.00 788.61 L 845.32 787.51 L 806.08 787.51 Z" fill="none" stroke="#111" stroke-width="1.0" />
<circle cx="803.4" cy="788.61" r="1.4" fill="#111" stroke="none" stroke-width="0"/>
<circle cx="848" cy="788.61" r="1.4" fill="#111" stroke="none" stroke-width="0"/>
<path d="M 803.40 795.78 L 806.02 797.01 L 845.38 796.75 L 848.00 797.98 L 845.27 798.95 L 806.13 794.81 Z" fill="none" stroke="#111" stroke-width="1.0" />
<circle cx="803.4" cy="795.78" r="1.4" fill="#111" stroke="none" stroke-width="0"/>
<circle cx="848" cy="797.98" r="1.4" fill="#111" stroke="none" stroke-width="0"/>
<path d="M 803.40 806.45 L 806.14 807.39 L 845.26 802.91 L 848.00 803.85 L 845.39 805.10 L 806.01 805.20 Z" fill="none" stroke="#111" stroke-width="1.0" />
<circle cx="803.4" cy="806.45" r="1.4" fill="#111" stroke="none" stroke-width="0"/>
<circle cx="848" cy="803.85" r="1.4" fill="#111" stroke="none" stroke-width="0"/>
<path d="M 803.40 812.67 L 806.04 813.86 L 845.29 815.18 L 848.00 814.17 L 845.36 812.98 L 806.11 811.66 Z" fill="none" stroke="#111" stroke-width="1.0" />
<circle cx="803.4" cy="812.67" r="1.4" fill="#111" stroke="none" stroke-width="0"/>
<circle cx="848" cy="814.17" r="1.4" fill="#111" stroke="none" stroke-width="0"/>
<path d="M 803.40 821.69 L 806.08 822.79 L 845.32 822.79 L 848.00 821.69 L 845.32 820.59 L 806.08 820.59 Z" fill="none" stroke="#111" stroke-width="1.0" />
<circle cx="803.4" cy="821.69" r="1.4" fill="#111" stroke="none" stroke-width="0"/>
<circle cx="848" cy="821.69" r="1.4" fill="#111" stroke="none" stroke-width="0"/>
<path d="M 803.40 830.96 L 806.13 831.94 L 845.27 827.98 L 848.00 828.96 L 845.37 830.18 L 806.03 829.74 Z" fill="none" stroke="#111" stroke-width="1.0" />
<circle cx="803.4" cy="830.96" r="1.4" fill="#111" stroke="none" stroke-width="0"/>
<circle cx="848" cy="828.96" r="1.4" fill="#111" stroke="none" stroke-width="0"/>
<path d="M 803.40 837.03 L 806.02 838.27 L 845.38 838.19 L 848.00 839.43 L 845.26 840.38 L 806.14 836.08 Z" fill="none" stroke="#111" stroke-width="1.0" />
<circle cx="803.4" cy="837.03" r="1.4" fill="#111" stroke="none" stroke-width="0"/>
<circle cx="848" cy="839.43" r="1.4" fill="#111" stroke="none" stroke-width="0"/>
<path d="M 803.40 846.50 L 806.08 847.60 L 845.32 847.60 L 848.00 846.50 L 845.32 845.40 L 806.08 845.40 Z" fill="none" stroke="#111" stroke-width="1.0" />
<circle cx="803.4" cy="846.5" r="1.4" fill="#111" stroke="none" stroke-width="0"/>
<circle cx="848" cy="846.5" r="1.4" fill="#111" stroke="none" stroke-width="0"/>
<path d="M 803.40 853.47 L 806.01 854.72 L 845.39 854.82 L 848.00 856.07 L 845.26 857.01 L 806.14 852.53 Z" fill="none" stroke="#111" stroke-width="1.0" />
<circle cx="803.4" cy="853.47" r="1.4" fill="#111" stroke="none" stroke-width="0"/>
<circle cx="848" cy="856.07" r="1.4" fill="#111" stroke="none" stroke-width="0"/>
<path d="M 803.40 864.24 L 806.14 865.19 L 845.26 860.89 L 848.00 861.84 L 845.38 863.08 L 806.02 863.00 Z" fill="none" stroke="#111" stroke-width="1.0" />
<circle cx="803.4" cy="864.24" r="1.4" fill="#111" stroke="none" stroke-width="0"/>
<circle cx="848" cy="861.84" r="1.4" fill="#111" stroke="none" stroke-width="0"/>
<path d="M 803.40 871.31 L 806.08 872.41 L 845.32 872.41 L 848.00 871.31 L 845.32 870.21 L 806.08 870.21 Z" fill="none" stroke="#111" stroke-width="1.0" />
<circle cx="803.4" cy="871.31" r="1.4" fill="#111" stroke="none" stroke-width="0"/>
<circle cx="848" cy="871.31" r="1.4" fill="#111" stroke="none" stroke-width="0"/>
<path d="M 803.40 878.48 L 806.02 879.71 L 845.38 879.45 L 848.00 880.68 L 845.27 881.65 L 806.13 877.51 Z" fill="none" stroke="#111" stroke-width="1.0" />
<circle cx="803.4" cy="878.48" r="1.4" fill="#111" stroke="none" stroke-width="0"/>
<circle cx="848" cy="880.68" r="1.4" fill="#111" stroke="none" stroke-width="0"/>
<path d="M 803.40 889.15 L 806.14 890.09 L 845.26 885.61 L 848.00 886.55 L 845.39 887.80 L 806.01 887.90 Z" fill="none" stroke="#111" stroke-width="1.0" />
<circle cx="803.4" cy="889.15" r="1.4" fill="#111" stroke="none" stroke-width="0"/>
<circle cx="848" cy="886.55" r="1.4" fill="#111" stroke="none" stroke-width="0"/>
<path d="M 803.40 895.37 L 806.04 896.56 L 845.29 897.88 L 848.00 896.87 L 845.36 895.68 L 806.11 894.36 Z" fill="none" stroke="#111" stroke-width="1.0" />
<circle cx="803.4" cy="895.37" r="1.4" fill="#111" stroke="none" stroke-width="0"/>
<circle cx="848" cy="896.87" r="1.4" fill="#111" stroke="none" stroke-width="0"/>
<path d="M 803.40 904.39 L 806.08 905.49 L 845.32 905.49 L 848.00 904.39 L 845.32 903.29 L 806.08 903.29 Z" fill="none" stroke="#111" stroke-width="1.0" />
<circle cx="803.4" cy="904.39" r="1.4" fill="#111" stroke="none" stroke-width="0"/>
<circle cx="848" cy="904.39" r="1.4" fill="#111" stroke="none" stroke-width="0"/>
<path d="M 803.40 913.66 L 806.13 914.64 L 845.27 910.68 L 848.00 911.66 L 845.37 912.88 L 806.03 912.44 Z" fill="none" stroke="#111" stroke-width="1.0" />
<circle cx="803.4" cy="913.66" r="1.4" fill="#111" stroke="none" stroke-width="0"/>
<circle cx="848" cy="911.66" r="1.4" fill="#111" stroke="none" stroke-width="0"/>
<rect x="969.7" y="394" width="124.8" height="48" fill="none" stroke="#222" stroke-width="1"/>
<line x1="1010.4" y1="394" x2="1010.4" y2="442" stroke="#222" stroke-width="1" />
<line x1="971.5" y1="417.6" x2="1008" y2="417.6" stroke="#666" stroke-width="1" />
<line x1="1013" y1="417.6" x2="1091" y2="417.6" stroke="#666" stroke-width="1" />
<path d="M 977.05 399.00 L 975.80 401.11 L 975.80 433.39 L 974.55 435.50 L 973.60 433.23 L 978.00 401.27 Z" fill="none" stroke="#111" stroke-width="1.0" />
<circle cx="977.05" cy="399" r="1.4" fill="#111" stroke="none" stroke-width="0"/>
<circle cx="974.55" cy="435.5" r="1.4" fill="#111" stroke="none" stroke-width="0"/>
<path d="M 982.25 399.00 L 981.24 401.24 L 984.76 433.26 L 983.75 435.50 L 982.56 433.36 L 983.44 401.14 Z" fill="none" stroke="#111" stroke-width="1.0" />
<circle cx="982.25" cy="399" r="1.4" fill="#111" stroke="none" stroke-width="0"/>
<circle cx="983.75" cy="435.5" r="1.4" fill="#111" stroke="none" stroke-width="0"/>
<path d="M 990.30 399.00 L 989.20 401.19 L 989.20 433.31 L 990.30 435.50 L 991.40 433.31 L 991.40 401.19 Z" fill="none" stroke="#111" stroke-width="1.0" />
<circle cx="990.3" cy="399" r="1.4" fill="#111" stroke="none" stroke-width="0"/>
<circle cx="990.3" cy="435.5" r="1.4" fill="#111" stroke="none" stroke-width="0"/>
<path d="M 997.90 399.00 L 996.67 401.12 L 996.93 433.38 L 995.70 435.50 L 994.73 433.24 L 998.87 401.26 Z" fill="none" stroke="#111" stroke-width="1.0" />
<circle cx="997.9" cy="399" r="1.4" fill="#111" stroke="none" stroke-width="0"/>
<circle cx="995.7" cy="435.5" r="1.4" fill="#111" stroke="none" stroke-width="0"/>
<path d="M 1003.90 399.00 L 1002.91 401.24 L 1006.69 433.26 L 1005.70 435.50 L 1004.49 433.36 L 1005.11 401.14 Z" fill="none" stroke="#111" stroke-width="1.0" />
<circle cx="1003.9" cy="399" r="1.4" fill="#111" stroke="none" stroke-width="0"/>
<circle cx="1005.7" cy="435.5" r="1.4" fill="#111" stroke="none" stroke-width="0"/>
<path d="M 1021.25 399.00 L 1020.00 401.11 L 1020.00 433.39 L 1018.75 435.50 L 1017.80 433.23 L 1022.20 401.27 Z" fill="none" stroke="#111" stroke-width="1.0" />
<circle cx="1021.25" cy="399" r="1.4" fill="#111" stroke="none" stroke-width="0"/>
<circle cx="1018.75" cy="435.5" r="1.4" fill="#111" stroke="none" stroke-width="0"/>
<path d="M 1026.55 399.00 L 1025.54 401.24 L 1029.06 433.26 L 1028.05 435.50 L 1026.86 433.36 L 1027.74 401.14 Z" fill="none" stroke="#111" stroke-width="1.0" />
<circle cx="1026.55" cy="399" r="1.4" fill="#111" stroke="none" stroke-width="0"/>
<circle cx="1028.05" cy="435.5" r="1.4" fill="#111" stroke="none" stroke-width="0"/>
<path d="M 1034.60 399.00 L 1033.50 401.19 L 1033.50 433.31 L 1034.60 435.50 L 1035.70 433.31 L 1035.70 401.19 Z" fill="none" stroke="#111" stroke-width="1.0" />
<circle cx="1034.6" cy="399" r="1.4" fill="#111" stroke="none" stroke-width="0"/>
<circle cx="1034.6" cy="435.5" r="1.4" fill="#111" stroke="none" stroke-width="0"/>
<path d="M 1042.90 399.00 L 1041.67 401.12 L 1041.93 433.38 L 1040.70 435.50 L 1039.73 433.24 L 1043.87 401.26 Z" fill="none" stroke="#111" stroke-width="1.0" />
<circle cx="1042.9" cy="399" r="1.4" fill="#111" stroke="none" stroke-width="0"/>
<circle cx="1040.7" cy="435.5" r="1.4" fill="#111" stroke="none" stroke-width="0"/>
<path d="M 1047.40 399.00 L 1046.41 401.24 L 1050.19 433.26 L 1049.20 435.50 L 1047.99 433.36 L 1048.61 401.14 Z" fill="none" stroke="#111" stroke-width="1.0" />
<circle cx="1047.4" cy="399" r="1.4" fill="#111" stroke="none" stroke-width="0"/>
<circle cx="1049.2" cy="435.5" r="1.4" fill="#111" stroke="none" stroke-width="0"/>
<path d="M 1056.85 399.00 L 1055.60 401.11 L 1055.60 433.39 L 1054.35 435.50 L 1053.40 433.23 L 1057.80 401.27 Z" fill="none" stroke="#111" stroke-width="1.0" />
<circle cx="1056.85" cy="399" r="1.4" fill="#111" stroke="none" stroke-width="0"/>
<circle cx="1054.35" cy="435.5" r="1.4" fill="#111" stroke="none" stroke-width="0"/>
<path d="M 1061.35 399.00 L 1060.34 401.24 L 1063.86 433.26 L 1062.85 435.50 L 1061.66 433.36 L 1062.54 401.14 Z" fill="none" stroke="#111" stroke-width="1.0" />
<circle cx="1061.35" cy="399" r="1.4" fill="#111" stroke="none" stroke-width="0"/>
<circle cx="1062.85" cy="435.5" r="1.4" fill="#111" stroke="none" stroke-width="0"/>
<path d="M 1069.40 399.00 L 1068.30 401.19 L 1068.30 433.31 L 1069.40 435.50 L 1070.50 433.31 L 1070.50 401.19 Z" fill="none" stroke="#111" stroke-width="1.0" />
<circle cx="1069.4" cy="399" r="1.4" fill="#111" stroke="none" stroke-width="0"/>
<circle cx="1069.4" cy="435.5" r="1.4" fill="#111" stroke="none" stroke-width="0"/>
<path d="M 1077.70 399.00 L 1076.47 401.12 L 1076.73 433.38 L 1075.50 435.50 L 1074.53 433.24 L 1078.67 401.26 Z" fill="none" stroke="#111" stroke-width="1.0" />
<circle cx="1077.7" cy="399" r="1.4" fill="#111" stroke="none" stroke-width="0"/>
<circle cx="1075.5" cy="435.5" r="1.4" fill="#111" stroke="none" stroke-width="0"/>
<path d="M 1083.00 399.00 L 1082.01 401.24 L 1085.79 433.26 L 1084.80 435.50 L 1083.59 433.36 L 1084.21 401.14 Z" fill="none" stroke="#111" stroke-width="1.0" />
<circle cx="1083.0" cy="399" r="1.4" fill="#111" stroke="none" stroke-width="0"/>
<circle cx="1084.8" cy="435.5" r="1.4" fill="#111" stroke="none" stroke-width="0"/>
<path d="M 976.3 574 L 976.3 544 L 1094.5 544" fill="none" stroke="#2a2a2a" stroke-width="1"/>
<line x1="1003.4" y1="545" x2="1003.4" y2="574" stroke="#444" stroke-width="1" />
<path d="M 981.40 549.30 L 984.14 550.40 L 1024.26 550.40 L 1027.00 549.30 L 1024.26 548.20 L 984.14 548.20 Z" fill="none" stroke="#111" stroke-width="1.0" />
<circle cx="981.4" cy="549.3" r="1.4" fill="#111" stroke="none" stroke-width="0"/>
<circle cx="1027" cy="549.3" r="1.4" fill="#111" stroke="none" stroke-width="0"/>
<path d="M 981.40 555.80 L 984.06 557.08 L 1024.34 557.52 L 1027.00 558.80 L 1024.19 559.72 L 984.21 554.88 Z" fill="none" stroke="#111" stroke-width="1.0" />
<circle cx="981.4" cy="555.8" r="1.4" fill="#111" stroke="none" stroke-width="0"/>
<circle cx="1027" cy="558.8" r="1.4" fill="#111" stroke="none" stroke-width="0"/>
<path d="M 981.40 562.20 L 984.06 563.48 L 1024.34 563.92 L 1027.00 565.20 L 1024.19 566.12 L 984.21 561.28 Z" fill="none" stroke="#111" stroke-width="1.0" />
<circle cx="981.4" cy="562.2" r="1.4" fill="#111" stroke="none" stroke-width="0"/>
<circle cx="1027" cy="565.2" r="1.4" fill="#111" stroke="none" stroke-width="0"/>
<path d="M 981.40 570.00 L 984.16 571.04 L 1024.24 567.96 L 1027.00 569.00 L 1024.29 570.16 L 984.11 568.84 Z" fill="none" stroke="#111" stroke-width="1.0" />
<circle cx="981.4" cy="570" r="1.4" fill="#111" stroke="none" stroke-width="0"/>
<circle cx="1027" cy="569" r="1.4" fill="#111" stroke="none" stroke-width="0"/>
<line x1="1063.3" y1="545" x2="1063.3" y2="574" stroke="#444" stroke-width="1" />
<path d="M 1040.00 549.30 L 1042.70 550.40 L 1082.30 550.40 L 1085.00 549.30 L 1082.30 548.20 L 1042.70 548.20 Z" fill="none" stroke="#111" stroke-width="1.0" />
<circle cx="1040" cy="549.3" r="1.4" fill="#111" stroke="none" stroke-width="0"/>
<circle cx="1085" cy="549.3" r="1.4" fill="#111" stroke="none" stroke-width="0"/>
<path d="M 1040.00 555.80 L 1042.63 557.08 L 1082.37 557.52 L 1085.00 558.80 L 1082.23 559.72 L 1042.77 554.88 Z" fill="none" stroke="#111" stroke-width="1.0" />
<circle cx="1040" cy="555.8" r="1.4" fill="#111" stroke="none" stroke-width="0"/>
<circle cx="1085" cy="558.8" r="1.4" fill="#111" stroke="none" stroke-width="0"/>
<path d="M 1040.00 562.20 L 1042.63 563.48 L 1082.37 563.92 L 1085.00 565.20 L 1082.23 566.12 L 1042.77 561.28 Z" fill="none" stroke="#111" stroke-width="1.0" />
<circle cx="1040" cy="562.2" r="1.4" fill="#111" stroke="none" stroke-width="0"/>
<circle cx="1085" cy="565.2" r="1.4" fill="#111" stroke="none" stroke-width="0"/>
<path d="M 1040.00 570.00 L 1042.72 571.04 L 1082.28 567.96 L 1085.00 569.00 L 1082.32 570.16 L 1042.68 568.84 Z" fill="none" stroke="#111" stroke-width="1.0" />
<circle cx="1040" cy="570" r="1.4" fill="#111" stroke="none" stroke-width="0"/>
<circle cx="1085" cy="569" r="1.4" fill="#111" stroke="none" stroke-width="0"/>
<path d="M 1076.2 612.3 L 1060 610.5 Q 1040 609 1032 616 Q 1026 623 1028 631 Q 1031 641 1045 644.5 Q 1060 646.5 1076.2 644.4" fill="none" stroke="#2a2a2a" stroke-width="0.9" />
<ellipse cx="1055.6" cy="627.8" rx="18.7" ry="12.2" fill="none" stroke="#2a2a2a" stroke-width="0.9"/>
<circle cx="1064" cy="627.5" r="6" fill="none" stroke="#2a2a2a" stroke-width="0.9"/>
<rect x="1076.2" y="612.3" width="17.3" height="32.1" fill="none" stroke="#222" stroke-width="0.9"/>
<circle cx="1084.6" cy="627.5" r="3.8" fill="none" stroke="#2a2a2a" stroke-width="0.8"/>
<path d="M 965.3 707 L 965.3 675.4 Q 965.3 669.4 971.3 669.4 L 1023.4 669.4 Q 1029.4 669.4 1029.4 675.4 L 1029.4 707" fill="none" stroke="#2a2a2a" stroke-width="0.9"/>
<path d="M 973 700.6 Q 966 690 975 681 Q 985 673 997 673 Q 1012 673 1020 681 Q 1027 690 1020 700.6 Z" fill="none" stroke="#2a2a2a" stroke-width="0.9" />
<rect x="995" y="690.5" width="4.6" height="14" rx="2.3" fill="#ebeced" stroke="#2a2a2a" stroke-width="0.9"/>
<circle cx="997.3" cy="704" r="3.4" fill="none" stroke="#2a2a2a" stroke-width="0.9"/>
<rect x="974" y="756.8" width="29.8" height="17.0" fill="none" stroke="#222" stroke-width="0.9"/>
<circle cx="988.1" cy="765.3" r="3.4" fill="none" stroke="#2a2a2a" stroke-width="0.8"/>
<path d="M 974.5 773.8 Q 971 785 972 797 Q 975 815 988.5 817.7 Q 1002 815 1004.5 797 Q 1005.5 785 1003.2 773.8" fill="none" stroke="#2a2a2a" stroke-width="0.9" />
<ellipse cx="988.4" cy="792.3" rx="11.4" ry="17.2" fill="none" stroke="#2a2a2a" stroke-width="0.9"/>
<circle cx="988.5" cy="784.5" r="5.8" fill="none" stroke="#2a2a2a" stroke-width="0.9"/>
<rect x="1028.7" y="756.8" width="72.8" height="158.7" rx="3" fill="none" stroke="#2a2a2a" stroke-width="0.9"/>
<path d="M 1065 763.8 Q 1090 764 1095.5 782 Q 1097 800 1093 822 Q 1091 835 1095 855 Q 1098 880 1088 895 Q 1078 905 1065 906 Q 1052 905 1042 895 Q 1033 880 1035.5 855 Q 1039 835 1037 822 Q 1034 800 1035 782 Q 1040 764 1065 763.8 Z" fill="none" stroke="#2a2a2a" stroke-width="0.8" />
<path d="M 1049 889 Q 1060 897 1068 896 M 1073 895 Q 1081 893 1087 887" fill="none" stroke="#2a2a2a" stroke-width="0.8" />
<circle cx="1065.8" cy="885.5" r="3" fill="none" stroke="#2a2a2a" stroke-width="0.8"/>
<rect x="1063.2" y="891" width="5" height="14" rx="2.5" fill="#ebeced" stroke="#2a2a2a" stroke-width="0.9"/>
<circle cx="1065.7" cy="905" r="3.5" fill="none" stroke="#2a2a2a" stroke-width="0.9"/>
<g transform="translate(1076,887.3) rotate(-57)"><rect x="-12.5" y="-1.6" width="25" height="3.2" rx="1.6" fill="#ebeced" stroke="#2a2a2a" stroke-width="0.9"/></g>
<path d="M 954.5 916 L 954.5 880 Q 954.5 874.1 960.5 874.1 L 1018.5 874.1 Q 1024.5 874.1 1024.5 880 L 1024.5 916" fill="none" stroke="#2a2a2a" stroke-width="0.9"/>
<path d="M 962.6 908.4 Q 957 896 965 887 Q 975 878.4 989 878.4 Q 1005 878.4 1014 887 Q 1021 896 1016 908.4 Z" fill="none" stroke="#2a2a2a" stroke-width="0.9" />
<rect x="987" y="896" width="4.6" height="14" rx="2.3" fill="#ebeced" stroke="#2a2a2a" stroke-width="0.9"/>
<circle cx="989.3" cy="911" r="3.4" fill="none" stroke="#2a2a2a" stroke-width="0.9"/>
<rect x="866" y="868" width="61.6" height="46.4" fill="none" stroke="#222" stroke-width="1"/>
<line x1="866" y1="875.6" x2="927.6" y2="875.6" stroke="#222" stroke-width="1" />
<path d="M 901 907.4 A 12.5 12.5 0 1 1 908 900" fill="none" stroke="#2a2a2a" stroke-width="0.9" />
<path d="M 905 903 L 908.5 900.5 L 910 904.5" fill="none" stroke="#2a2a2a" stroke-width="0.8" />
<circle cx="893.5" cy="895.5" r="2.6" fill="none" stroke="#2a2a2a" stroke-width="0.8"/>
<circle cx="898.5" cy="893" r="2.6" fill="none" stroke="#2a2a2a" stroke-width="0.8"/>
<circle cx="898" cy="898.5" r="2.6" fill="none" stroke="#2a2a2a" stroke-width="0.8"/>
<text transform="translate(580.2,240) rotate(-90)" x="0" y="0" font-family="Liberation Sans, sans-serif" font-size="33" fill="#1a1a1a" textLength="93.8" lengthAdjust="spacingAndGlyphs">Лоджия</text>
<text transform="translate(923,569.3) rotate(-90)" x="0" y="0" font-family="Liberation Sans, sans-serif" font-size="33" fill="#1a1a1a" textLength="103.5" lengthAdjust="spacingAndGlyphs">Коридор</text>
<text x="63.0" y="90.8" font-family="Liberation Sans, sans-serif" font-size="31.5" font-weight="normal" fill="#2a2a2a" text-anchor="start" textLength="53.13" lengthAdjust="spacingAndGlyphs" stroke="#ffffff" stroke-width="0.45">ЖК</text>
<text x="124.0" y="90.8" font-family="Liberation Sans, sans-serif" font-size="31.5" font-weight="bold" fill="#2a2a2a" text-anchor="start" textLength="169.61" lengthAdjust="spacingAndGlyphs" stroke="#2a2a2a" stroke-width="0.5">«ОРБИТА»</text>
<text x="64.0" y="151" font-family="Liberation Sans, sans-serif" font-size="35" font-weight="bold" fill="#2a2a2a" text-anchor="start" textLength="228.94" lengthAdjust="spacingAndGlyphs" stroke="#2a2a2a" stroke-width="0.5">3-комнатная</text>
<text x="63.0" y="192.9" font-family="Liberation Sans, sans-serif" font-size="35" font-weight="bold" fill="#2a2a2a" text-anchor="start" textLength="169.65" lengthAdjust="spacingAndGlyphs" stroke="#2a2a2a" stroke-width="0.5">квартира</text>
<text x="64.0" y="235.6" font-family="Liberation Sans, sans-serif" font-size="35" font-weight="bold" fill="#2a2a2a" text-anchor="start" textLength="194.57" lengthAdjust="spacingAndGlyphs" stroke="#2a2a2a" stroke-width="0.5">2-27 этажи</text>
<text x="143.0" y="333.6" font-family="Liberation Sans, sans-serif" font-size="14.5" font-weight="normal" fill="#222" text-anchor="start" textLength="282.2" lengthAdjust="spacingAndGlyphs" >Количество жилых комнат по проекту и буквенный код</text>
<text x="161.2" y="384.4" font-family="Liberation Sans, sans-serif" font-size="33" font-weight="bold" fill="#111" text-anchor="start" textLength="61.4" lengthAdjust="spacingAndGlyphs" >35,59</text>
<text x="161.2" y="426.4" font-family="Liberation Sans, sans-serif" font-size="33" font-weight="bold" fill="#111" text-anchor="start" textLength="59.95" lengthAdjust="spacingAndGlyphs" >58,77</text>
<text x="160.0" y="468.4" font-family="Liberation Sans, sans-serif" font-size="33" font-weight="bold" fill="#111" text-anchor="start" textLength="62.4" lengthAdjust="spacingAndGlyphs" >60,62</text>
<text x="83.0" y="435" font-family="Liberation Sans, sans-serif" font-size="53" font-weight="bold" fill="#111" text-anchor="start" textLength="41.6" lengthAdjust="spacingAndGlyphs" >3Б</text>
<text x="257.2" y="378.4" font-family="Liberation Sans, sans-serif" font-size="14.5" font-weight="normal" fill="#222" text-anchor="start" textLength="167.43" lengthAdjust="spacingAndGlyphs" >Жилая площадь квартиры (кв.м)</text>
<text x="257.2" y="413" font-family="Liberation Sans, sans-serif" font-size="14.5" font-weight="normal" fill="#222" text-anchor="start" textLength="168.24" lengthAdjust="spacingAndGlyphs" >Общая площадь квартиры (кв.м)</text>
<text x="257.2" y="426.6" font-family="Liberation Sans, sans-serif" font-size="14.5" font-weight="normal" fill="#222" text-anchor="start" textLength="60.17" lengthAdjust="spacingAndGlyphs" >без лоджий</text>
<text x="257.2" y="454.3" font-family="Liberation Sans, sans-serif" font-size="14.5" font-weight="normal" fill="#222" text-anchor="start" textLength="168.24" lengthAdjust="spacingAndGlyphs" >Общая площадь квартиры (кв.м)</text>
<text x="256.0" y="469" font-family="Liberation Sans, sans-serif" font-size="14.5" font-weight="normal" fill="#222" text-anchor="start" textLength="160.32" lengthAdjust="spacingAndGlyphs" >с лоджиями (коэффициент 0,5)</text>
<text x="66.0" y="566.6" font-family="Liberation Sans, sans-serif" font-size="34.5" font-weight="bold" fill="#2a2a2a" text-anchor="start" textLength="164.63" lengthAdjust="spacingAndGlyphs" stroke="#2a2a2a" stroke-width="0.5">Секция 3</text>
<text x="354.9" y="835.7" font-family="Liberation Sans, sans-serif" font-size="31" font-weight="normal" fill="#222" text-anchor="start" textLength="23.14" lengthAdjust="spacingAndGlyphs" >С</text>
<text x="716.6" y="263.0" font-family="Liberation Sans, sans-serif" font-size="33" font-weight="normal" fill="#1a1a1a" text-anchor="start" textLength="180.6" lengthAdjust="spacingAndGlyphs" >Жилая комната</text>
<text x="778.0" y="318.9" font-family="Liberation Sans, sans-serif" font-size="33" font-weight="normal" fill="#1a1a1a" text-anchor="start" textLength="59.08" lengthAdjust="spacingAndGlyphs" >12,80</text>
<text x="593.3" y="510.6" font-family="Liberation Sans, sans-serif" font-size="33" font-weight="normal" fill="#1a1a1a" text-anchor="start" textLength="180.69" lengthAdjust="spacingAndGlyphs" >Жилая комната</text>
<text x="664.8" y="555.7" font-family="Liberation Sans, sans-serif" font-size="33" font-weight="normal" fill="#1a1a1a" text-anchor="start" textLength="58.37" lengthAdjust="spacingAndGlyphs" >11,21</text>
<text x="589.5" y="718.5" font-family="Liberation Sans, sans-serif" font-size="33" font-weight="normal" fill="#1a1a1a" text-anchor="start" textLength="182.26" lengthAdjust="spacingAndGlyphs" >Жилая комната</text>
<text x="636.3" y="785.3" font-family="Liberation Sans, sans-serif" font-size="33" font-weight="normal" fill="#1a1a1a" text-anchor="start" textLength="57.84" lengthAdjust="spacingAndGlyphs" >11,58</text>
<text x="547.4" y="310.9" font-family="Liberation Sans, sans-serif" font-size="33" font-weight="normal" fill="#1a1a1a" text-anchor="start" textLength="43.91" lengthAdjust="spacingAndGlyphs" >3,70</text>
<text x="890.5" y="430.8" font-family="Liberation Sans, sans-serif" font-size="33" font-weight="normal" fill="#1a1a1a" text-anchor="start" textLength="45.59" lengthAdjust="spacingAndGlyphs" >4,72</text>
<text x="978.4" y="264.1" font-family="Liberation Sans, sans-serif" font-size="33" font-weight="normal" fill="#1a1a1a" text-anchor="start" textLength="80.7" lengthAdjust="spacingAndGlyphs" >Кухня-</text>
<text x="978.7" y="298.8" font-family="Liberation Sans, sans-serif" font-size="33" font-weight="normal" fill="#1a1a1a" text-anchor="start" textLength="61.5" lengthAdjust="spacingAndGlyphs" >ниша</text>
<text x="980.0" y="339.5" font-family="Liberation Sans, sans-serif" font-size="33" font-weight="normal" fill="#1a1a1a" text-anchor="start" textLength="41.42" lengthAdjust="spacingAndGlyphs" >7,20</text>
<text x="963.7" y="488.3" font-family="Liberation Sans, sans-serif" font-size="33" font-weight="normal" fill="#1a1a1a" text-anchor="start" textLength="120.13" lengthAdjust="spacingAndGlyphs" >Прихожая</text>
<text x="1005.7" y="527.9" font-family="Liberation Sans, sans-serif" font-size="33" font-weight="normal" fill="#1a1a1a" text-anchor="start" textLength="42.55" lengthAdjust="spacingAndGlyphs" >3,61</text>
<text x="979.5" y="618" font-family="Liberation Sans, sans-serif" font-size="33" font-weight="normal" fill="#1a1a1a" text-anchor="start" textLength="37.15" lengthAdjust="spacingAndGlyphs" >С/у</text>
<text x="977.7" y="655.8" font-family="Liberation Sans, sans-serif" font-size="33" font-weight="normal" fill="#1a1a1a" text-anchor="start" textLength="44.75" lengthAdjust="spacingAndGlyphs" >2,41</text>
<text x="903.0" y="797" font-family="Liberation Sans, sans-serif" font-size="33" font-weight="normal" fill="#1a1a1a" text-anchor="start" textLength="37.44" lengthAdjust="spacingAndGlyphs" >С/у</text>
<text x="903.6" y="841" font-family="Liberation Sans, sans-serif" font-size="33" font-weight="normal" fill="#1a1a1a" text-anchor="start" textLength="44.64" lengthAdjust="spacingAndGlyphs" >5,24</text>
</svg>
</body></html>
